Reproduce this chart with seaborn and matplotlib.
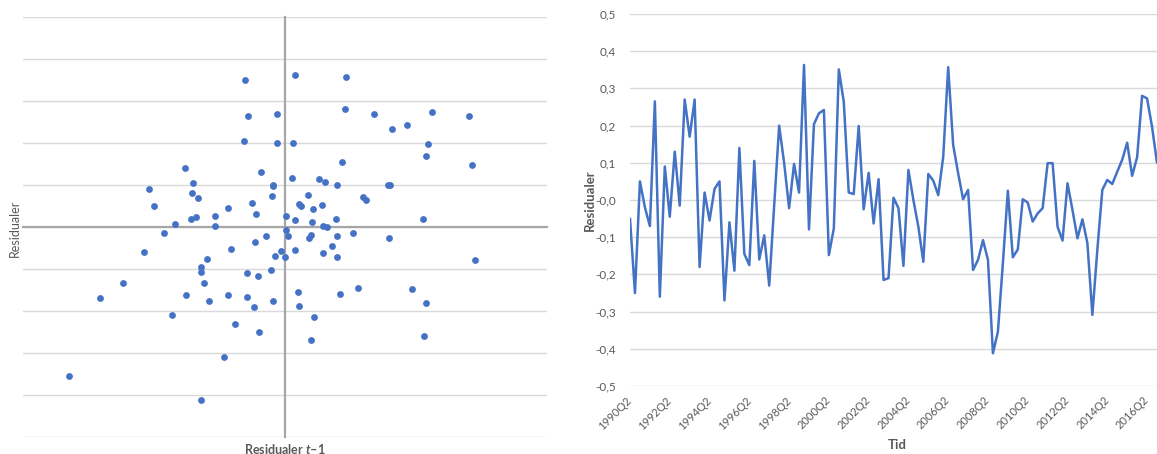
import numpy as np
import pandas as pd
import seaborn as sns
import matplotlib.pyplot as plt
from matplotlib.ticker import MultipleLocator, FuncFormatter

# Residuals per quarter, 1990Q2 - 2016Q4
resid = [
    -0.050, -0.250, 0.050, -0.020, -0.070, 0.265, -0.260, 0.090, -0.045, 0.130,
    -0.015, 0.270, 0.170, 0.270, -0.180, 0.020, -0.055, 0.030, 0.050, -0.270,
    -0.060, -0.190, 0.140, -0.145, -0.175, 0.105, -0.160, -0.095, -0.230, -0.015,
    0.200, 0.100, -0.022, 0.097, 0.020, 0.363, -0.079, 0.204, 0.233, 0.242,
    -0.148, -0.076, 0.351, 0.264, 0.020, 0.016, 0.199, -0.025, 0.073, -0.063,
    0.056, -0.215, -0.210, 0.006, -0.022, -0.177, 0.081, 0.000, -0.072, -0.166,
    0.070, 0.052, 0.013, 0.116, 0.357, 0.148, 0.072, 0.002, 0.027, -0.188,
    -0.161, -0.108, -0.161, -0.412, -0.354, -0.170, 0.025, -0.154, -0.133, 0.002,
    -0.007, -0.058, -0.036, -0.022, 0.099, 0.099, -0.072, -0.109, 0.045, -0.027,
    -0.103, -0.052, -0.116, -0.309, -0.134, 0.027, 0.054, 0.043, 0.076, 0.108,
    0.154, 0.065, 0.115, 0.280, 0.273, 0.197, 0.100,
]

tick_labels = ["1990Q2", "1992Q2", "1994Q2", "1996Q2", "1998Q2", "2000Q2", "2002Q2",
               "2004Q2", "2006Q2", "2008Q2", "2010Q2", "2012Q2", "2014Q2", "2016Q2"]
tick_step = 8  # quarters between labelled ticks

blue = "#4472C4"
grid_col = "#D9D9D9"
axis_col = "#A6A6A6"
text_col = "#595959"

df = pd.DataFrame({"t": np.arange(len(resid)), "resid": resid})
# residual against residual one period earlier
lagged = pd.DataFrame({"lag": resid[:-1], "resid": resid[1:]})

sns.set_style("white")
plt.rcParams["font.family"] = ["Lato", "DejaVu Sans"]
plt.rcParams["mathtext.fontset"] = "custom"
plt.rcParams["mathtext.rm"] = "Lato"
plt.rcParams["mathtext.it"] = "Lato:italic:bold"

W, H = 1157, 454
fig = plt.figure(figsize=(W / 100, H / 100), dpi=100)
ax1 = fig.add_axes([23 / W, (H - 437) / H, 524 / W, 420 / H])
ax2 = fig.add_axes([630 / W, (H - 386) / H, 527 / W, 372 / H])

# ==========================================
# LEFT: scatter e_t vs e_{t-1}
# ==========================================
sns.scatterplot(data=lagged, x="lag", y="resid", ax=ax1, color=blue, s=24,
                linewidth=0, zorder=3)
ax1.set_xlim(-0.5, 0.5)
ax1.set_ylim(-0.5, 0.5)
ax1.yaxis.set_major_locator(MultipleLocator(0.1))
ax1.xaxis.set_major_locator(MultipleLocator(0.1))
ax1.yaxis.grid(True, color=grid_col, lw=1)
ax1.set_axisbelow(True)
for side in ["top", "right"]:
    ax1.spines[side].set_visible(False)
ax1.spines["bottom"].set_position(("data", 0))
ax1.spines["left"].set_position(("data", 0))
for side in ["bottom", "left"]:
    ax1.spines[side].set_color(axis_col)
    ax1.spines[side].set_linewidth(1.6)
    ax1.spines[side].set_zorder(2)
ax1.tick_params(axis="x", length=3, width=1, color=axis_col, direction="out",
                labelbottom=False)
ax1.tick_params(axis="y", length=0, labelleft=False)
ax1.set_xlabel("")
ax1.set_ylabel("")

fig.text(15 / W, 1 - 228 / H, "Residualer", rotation=90, ha="center", va="center",
         fontsize=9, color=text_col)
fig.text(285 / W, 1 - 449 / H, r"Residualer $t$–1", ha="center", va="center",
         fontsize=9, color=text_col, fontweight="bold")

# ==========================================
# RIGHT: residuals over time
# ==========================================
sns.lineplot(data=df, x="t", y="resid", ax=ax2, color=blue, lw=1.8)
ax2.set_xlim(0, len(resid) - 1)
ax2.set_ylim(-0.5, 0.5)
ax2.set_yticks(np.round(np.arange(-0.5, 0.51, 0.1), 1))
ax2.yaxis.set_major_formatter(FuncFormatter(lambda v, p: f"{v:.1f}".replace(".", ",")))
ax2.yaxis.grid(True, color=grid_col, lw=1)
ax2.set_axisbelow(True)
for side in ["top", "right", "bottom", "left"]:
    ax2.spines[side].set_visible(False)
ax2.set_xticks(np.arange(len(tick_labels)) * tick_step)
ax2.set_xticklabels(tick_labels, rotation=45, ha="right", va="center",
                    rotation_mode="anchor")
ax2.tick_params(axis="both", length=0, labelcolor=text_col)
ax2.tick_params(axis="x", pad=9, labelsize=8)
ax2.tick_params(axis="y", pad=10, labelsize=8.5)
ax2.set_xlabel("")
ax2.set_ylabel("")

fig.text(590 / W, 1 - 200 / H, "Residualer", rotation=90, ha="center", va="center",
         fontsize=9.5, color=text_col, fontweight="bold")
fig.text(897 / W, 1 - 445 / H, "Tid", ha="center", va="center",
         fontsize=9.5, color=text_col, fontweight="bold")

fig.savefig("out.png", dpi=100)
